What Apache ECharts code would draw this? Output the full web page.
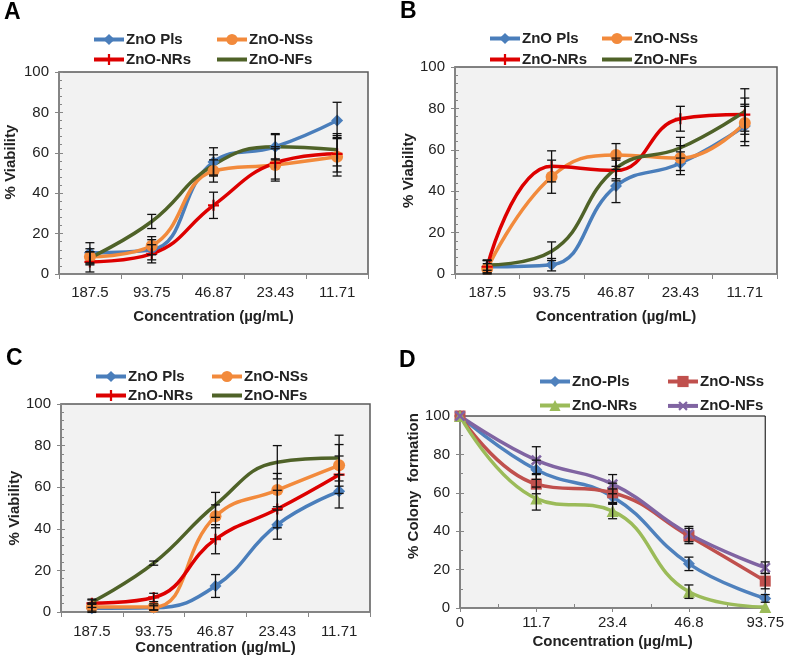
<!DOCTYPE html>
<html>
<head>
<meta charset="utf-8">
<script src="https://cdn.jsdelivr.net/npm/echarts@6/dist/echarts.min.js"></script>
<style>
html,body{margin:0;padding:0;background:#fff;}
#c{width:787px;height:657px;}
</style>
</head>
<body>
<div id="c"></div>
<script>
// ---------- DATA ----------
const catsABC = ['187.5', '93.75', '46.87', '23.43', '11.71'];
const catsD = ['0', '11.7', '23.4', '46.8', '93.75'];
const namesABC = ['ZnO Pls', 'ZnO-NSs', 'ZnO-NRs', 'ZnO-NFs'];
const namesD = ['ZnO-Pls', 'ZnO-NSs', 'ZnO-NRs', 'ZnO-NFs'];
const panelLetters = ['A', 'B', 'C', 'D'];
const yTitleABC = '% Viability';
const yTitleD = '% Colony  formation';
const xTitle = 'Concentration (µg/mL)';

// Panel A
const A_pls = [10.5, 12, 55.5, 63, 76];
const A_nss = [8.5, 14, 51, 54, 58];
const A_nrs = [6, 10, 34, 55, 59.5];
const A_nfs = [8, 26, 54, 63, 61.5];
const A_pls_err = [5, 5, 7, 6.5, 9];
const A_nss_err = [4, 4.5, 5.5, 8, 9.5];
const A_nrs_err = [5, 4.5, 6.5, 8, 9];
const A_nfs_err = [3, 3.5, 5, 6, 8];

// Panel B
const B_pls = [3.5, 4.5, 42.5, 53.5, 71.5];
const B_nss = [2.5, 47, 57.5, 56, 73];
const B_nrs = [3.5, 52, 50, 75, 77];
const B_nfs = [4.3, 11, 51, 61, 78.5];
const B_pls_err = [3, 3, 8, 5.5, 9.5];
const B_nss_err = [2.5, 8, 5.5, 6, 9];
const B_nrs_err = [3, 7.5, 5, 6, 8];
const B_nfs_err = [2.5, 4.5, 5, 5, 11];

// Panel C
const C_pls = [1.8, 2, 12.5, 42, 58];
const C_nss = [2.4, 2.4, 46, 58.6, 70.5];
const C_nrs = [4.2, 7, 35, 49.5, 66];
const C_nfs = [4.8, 23.5, 51.5, 72, 74];
const C_pls_err = [2, 1, 5.5, 7, 8];
const C_nss_err = [2, 1.5, 5.5, 8, 10];
const C_nrs_err = [2, 2, 7, 9, 9];
const C_nfs_err = [1, 1, 6, 8, 11];

// Panel D
const D_pls = [100, 72, 58, 23, 5];
const D_nss = [100, 64.5, 60, 37.5, 14];
const D_nrs = [100, 57, 50.5, 8.5, 0.5];
const D_nfs = [100, 77, 64.5, 38.5, 21];
const D_pls_err = [0, 5, 4, 3.5, 2];
const D_nss_err = [0, 5, 5, 4, 4];
const D_nrs_err = [0, 6, 4, 3.5, 0];
const D_nfs_err = [0, 7, 5, 4, 3];

const yTicksMax = 100;
const yTicksStep = 20;

// ---------- STYLE / LAYOUT ----------
const FONT = '"Liberation Sans", Arial, sans-serif';
const TXT = '#222';
const AX = '#868686';
const colorsABC = ['#4a7ebb', '#f28a3c', '#dd0000', '#4f6228'];
const colorsD = ['#4f81bd', '#c0504d', '#9bbb59', '#8064a2'];
const PLUS = 'path://M4,0h2v4h4v2h-4v4h-2v-4h-4v-2h4z';
const symbolsABC = [
  {symbol: 'diamond', size: 12, rotate: 0},
  {symbol: 'circle', size: 12, rotate: 0},
  {symbol: PLUS, size: 11, rotate: 0},
  {symbol: 'none', size: 0, rotate: 0}
];
const symbolsD = [
  {symbol: 'diamond', size: 12, rotate: 0},
  {symbol: 'rect', size: 11, rotate: 0},
  {symbol: 'triangle', size: 12, rotate: 0},
  {symbol: PLUS, size: 13, rotate: 45}
];

const grids = [
  {left: 59, top: 72, width: 309, height: 202},
  {left: 455, top: 67, width: 322, height: 207},
  {left: 61, top: 404, width: 309, height: 208},
  {left: 460, top: 416, width: 308, height: 192}
];
const titlePos = [[4, 1], [400, 0], [6, 347], [399, 349]];
const legendLayouts = [
  {cols: [92, 215], rows: [40, 60]},
  {cols: [488, 600], rows: [39, 60]},
  {cols: [94, 210], rows: [377, 396]},
  {cols: [538, 666], rows: [382, 406]}
];
const xNameGap = [35, 35, 27, 26];
const xLabelMargin = [11, 11, 12, 7];
const yNameGap = [41, 39, 36, 33];
const yNamePad = [[0, 0, 0, 22], [0, 0, 0, 0], [0, 0, 0, 0], [0, 0, 0, 52]];

const panelsValues = [
  [A_pls, A_nss, A_nrs, A_nfs],
  [B_pls, B_nss, B_nrs, B_nfs],
  [C_pls, C_nss, C_nrs, C_nfs],
  [D_pls, D_nss, D_nrs, D_nfs]
];
const panelsErr = [
  [A_pls_err, A_nss_err, A_nrs_err, A_nfs_err],
  [B_pls_err, B_nss_err, B_nrs_err, B_nfs_err],
  [C_pls_err, C_nss_err, C_nrs_err, C_nfs_err],
  [D_pls_err, D_nss_err, D_nrs_err, D_nfs_err]
];

function errRender(params, api) {
  const x = api.value(0), lo = api.value(1), hi = api.value(2);
  const t = api.coord([x, hi]);
  const b = api.coord([x, lo]);
  const w = 4.5;
  const st = {stroke: '#111', lineWidth: 1.3};
  return {
    type: 'group',
    children: [
      {type: 'line', shape: {x1: t[0], y1: t[1], x2: b[0], y2: b[1]}, style: st},
      {type: 'line', shape: {x1: t[0] - w, y1: t[1], x2: t[0] + w, y2: t[1]}, style: st},
      {type: 'line', shape: {x1: b[0] - w, y1: b[1], x2: b[0] + w, y2: b[1]}, style: st}
    ]
  };
}

const xAxes = [], yAxes = [], series = [], legends = [], titles = [];
const nameStyle = {fontFamily: FONT, fontWeight: 'bold', fontSize: 15, color: TXT};
const labelStyle = {fontFamily: FONT, fontSize: 15, color: TXT};

for (let p = 0; p < 4; p++) {
  const isD = p === 3;
  titles.push({
    text: panelLetters[p], left: titlePos[p][0], top: titlePos[p][1], padding: 0,
    textStyle: {fontFamily: FONT, fontWeight: 'bold', fontSize: 23, color: '#000'}
  });
  if (!isD) {
    xAxes.push({
      type: 'category', gridIndex: p, data: catsABC, boundaryGap: true,
      axisLine: {lineStyle: {color: AX, width: 1.5}},
      axisTick: {show: true, length: 5, lineStyle: {color: AX}},
      axisLabel: Object.assign({margin: xLabelMargin[p]}, labelStyle),
      splitLine: {show: false},
      name: xTitle, nameLocation: 'middle', nameGap: xNameGap[p], nameTextStyle: nameStyle
    });
  } else {
    xAxes.push({
      type: 'value', gridIndex: p, min: 0, max: catsD.length - 1, interval: 1,
      axisLine: {lineStyle: {color: AX, width: 1.5}},
      axisTick: {show: true, length: 4, lineStyle: {color: AX}},
      axisLabel: Object.assign({margin: xLabelMargin[p], formatter: v => catsD[v]}, labelStyle),
      splitLine: {show: false},
      name: xTitle, nameLocation: 'middle', nameGap: xNameGap[p], nameTextStyle: nameStyle
    });
  }
  yAxes.push({
    type: 'value', gridIndex: p, min: 0, max: yTicksMax, interval: yTicksStep, position: 'left',
    axisLine: {show: true, lineStyle: {color: AX, width: 1.5}},
    axisTick: {show: true, length: 4, lineStyle: {color: AX}},
    axisLabel: Object.assign({margin: 10}, labelStyle),
    splitLine: {show: false},
    name: isD ? yTitleD : yTitleABC, nameLocation: 'middle', nameGap: yNameGap[p],
    nameTextStyle: Object.assign({padding: yNamePad[p]}, nameStyle)
  });

  const names = isD ? namesD : namesABC;
  const colors = isD ? colorsD : colorsABC;
  const syms = isD ? symbolsD : symbolsABC;
  const lay = legendLayouts[p];
  for (let s = 0; s < 4; s++) {
    const sname = names[s] + '|' + panelLetters[p];
    const vals = panelsValues[p][s];
    const noSym = syms[s].symbol === 'none';
    series.push({
      type: 'line', name: sname, xAxisIndex: p, yAxisIndex: p,
      data: isD ? vals.map((v, i) => [i, v]) : vals.slice(),
      smooth: 0.45,
      symbol: syms[s].symbol, symbolSize: syms[s].size, symbolRotate: syms[s].rotate,
      showSymbol: !noSym,
      itemStyle: {color: colors[s]},
      lineStyle: {color: colors[s], width: 3.5},
      emphasis: {disabled: true},
      z: 2
    });
    const errs = panelsErr[p][s];
    const ed = [];
    vals.forEach((v, i) => { if (errs[i] > 0) ed.push([i, v - errs[i], v + errs[i]]); });
    series.push({
      type: 'custom', xAxisIndex: p, yAxisIndex: p, renderItem: errRender,
      encode: {x: 0, y: [1, 2]}, data: ed, silent: true, z: 5
    });
    const legendItem = noSym ? {name: sname, itemStyle: {opacity: 0}} : {name: sname};
    legends.push({
      left: lay.cols[s % 2], top: lay.rows[Math.floor(s / 2)] - 8, padding: 0,
      data: [legendItem], itemWidth: 30, itemHeight: 14, itemGap: 0,
      selectedMode: false,
      lineStyle: {width: 4},
      formatter: n => n.split('|')[0],
      textStyle: {fontFamily: FONT, fontWeight: 'bold', fontSize: 15, color: TXT, padding: [0, 0, 0, -3]}
    });
  }
}
// secondary axes for inner (minor) ticks
for (let p = 0; p < 4; p++) {
  const isD = p === 3;
  yAxes.push({
    type: 'value', gridIndex: p, min: 0, max: yTicksMax, interval: yTicksStep, position: 'left', offset: 0,
    axisLine: {show: false}, axisLabel: {show: false}, splitLine: {show: false},
    axisTick: {show: true, inside: true, length: 4, lineStyle: {color: AX}},
    minorTick: {show: true, splitNumber: isD ? 2 : 5, length: 3, lineStyle: {color: AX}}
  });
}
xAxes.push({
  type: 'value', gridIndex: 3, min: 0, max: catsD.length - 1, interval: 1, position: 'bottom', offset: 0,
  axisLine: {show: false}, axisLabel: {show: false}, splitLine: {show: false},
  axisTick: {show: false, inside: true},
  minorTick: {show: true, splitNumber: 2, length: 4, lineStyle: {color: AX}}
});

const option = {
  animation: false,
  backgroundColor: '#ffffff',
  title: titles,
  grid: grids.map((g, i) => Object.assign({
    show: true, backgroundColor: '#f2f2f2',
    borderColor: i === 3 ? '#000' : '#595959', borderWidth: i === 3 ? 1 : 1.5,
    containLabel: false
  }, g)),
  xAxis: xAxes,
  yAxis: yAxes,
  legend: legends,
  series: series
};

const chart = echarts.init(document.getElementById('c'), null, {renderer: 'canvas'});
chart.setOption(option);
</script>
</body>
</html>
